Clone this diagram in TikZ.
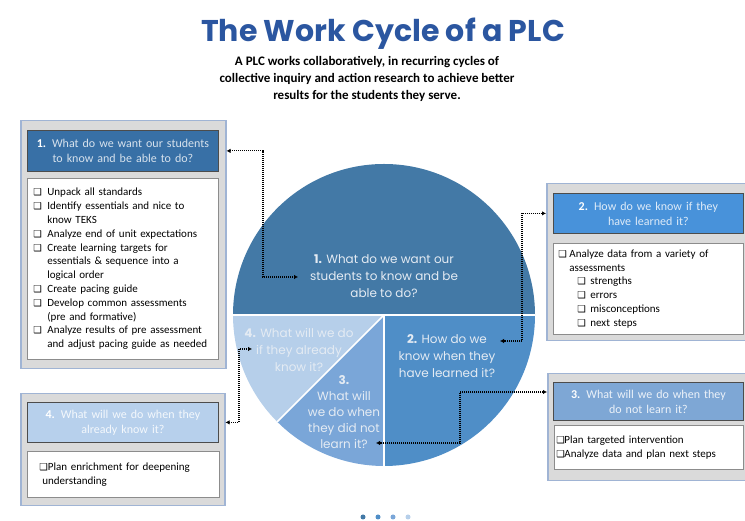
\documentclass[tikz,border=0pt]{standalone}
\usepackage{fontspec}
\setmainfont{Carlito}
\newfontfamily\piefont{Poppins}
\newfontfamily\symfont{DejaVu Sans}
\usetikzlibrary{arrows.meta}

\definecolor{titleblue}{RGB}{43,86,160}
\definecolor{sliceA}{RGB}{67,121,166}
\definecolor{sliceB}{RGB}{79,142,199}
\definecolor{sliceC}{RGB}{122,166,216}
\definecolor{sliceD}{RGB}{182,207,234}
\definecolor{headA}{RGB}{56,112,166}
\definecolor{headB}{RGB}{72,146,218}
\definecolor{headC}{RGB}{126,167,213}
\definecolor{headD}{RGB}{183,208,236}
\definecolor{framegray}{RGB}{218,218,218}
\definecolor{frameline}{RGB}{160,180,212}
\definecolor{pietext}{RGB}{228,235,243}

\newcommand{\chk}{{\symfont\fontsize{9.5}{9.5}\selectfont ❑}}
\newcommand{\itm}[2][14pt]{\noindent\hangindent=#1\hangafter=1\makebox[#1][l]{\chk}#2\par}
\newcommand{\subitm}[1]{\noindent\hspace*{19pt}\makebox[13pt][l]{\chk}#1\par}

\begin{document}
\begin{tikzpicture}[x=1pt,y=1pt,
    frame/.style={draw=frameline, line width=1.5pt, fill=framegray, anchor=north west, inner sep=0pt},
    head/.style={draw=black!70, line width=0.8pt, anchor=north west, inner sep=0pt, text width=#1, align=center, font=\fontsize{12}{15}\selectfont},
    body/.style={draw=black!45, line width=0.8pt, fill=white, anchor=north west, align=left, font=\fontsize{11}{13.8}\selectfont},
    pielabel/.style={text=pietext, align=center, font=\piefont\fontsize{12}{17}\selectfont},
    link/.style={line width=1.1pt, dash pattern=on 1pt off 1pt, {Latex[length=4pt,width=4.5pt]}-{Latex[length=4pt,width=4.5pt]}}]
  \useasboundingbox (0,0) rectangle (745,521);

  % title
  \node[text=titleblue, font=\piefont\bfseries\fontsize{30}{31}\selectfont] (title) at (383,487) {The Work Cycle of a PLC};
  \node[align=center, font=\bfseries\fontsize{13}{17}\selectfont] (intro) at (367,442)
    {A PLC works collaboratively, in recurring cycles of\\collective inquiry and action research to achieve better\\results for the students they serve.};

  % pie
  \coordinate (c) at (384,206);
  \fill[sliceA] (c) -- ++(0:151) arc[start angle=0, end angle=180, radius=151] -- cycle;
  \fill[sliceB] (c) -- ++(270:151) arc[start angle=270, end angle=360, radius=151] -- cycle;
  \fill[sliceC] (c) -- ++(225:151) arc[start angle=225, end angle=270, radius=151] -- cycle;
  \fill[sliceD] (c) -- ++(180:151) arc[start angle=180, end angle=225, radius=151] -- cycle;
  \draw[white, line width=1.5pt] (c) ++(180:151) -- ++(302,0);
  \draw[white, line width=1.5pt] (c) -- ++(270:151);
  \draw[white, line width=1.5pt] (c) -- ++(225:151);

  \node[pielabel] (p1) at (384,245) {\textbf{1.} What do we want our\\students to know and be\\able to do?};
  \node[pielabel] (p2) at (447,165) {\textbf{2.} How do we\\know when they\\have learned it?};
  \node[pielabel, font=\piefont\fontsize{12}{16}\selectfont] (p3) at (344,109) {\textbf{3.}\\What will\\we do when\\they did not\\learn it?};
  \node[pielabel] (p4) at (299,171) {\textbf{4.} What will we do\\if they already\\know it?};

  % box 1
  \node[frame, minimum width=205pt, minimum height=248pt] (f1) at (20,401) {};
  \node[head=191pt, fill=headA, minimum height=41pt, text=white!80!headA] (h1) at (27,391)
    {\textcolor{white}{\textbf{1.}} What do we want our students\\to know and be able to do?};
  \node[body, text width=179pt, inner xsep=6pt, minimum height=181pt] (b1) at (27,343)
    {\itm{Unpack all standards}
     \itm{Identify essentials and nice to\newline know TEKS}
     \itm{Analyze end of unit expectations}
     \itm{Create learning targets for\newline essentials \& sequence into a\newline logical order}
     \itm{Create pacing guide}
     \itm{Develop common assessments\newline (pre and formative)}
     \itm{Analyze results of pre assessment\newline and adjust pacing guide as needed}};

  % box 2
  \node[frame, minimum width=199pt, minimum height=157pt] (f2) at (546,338) {};
  \node[head=190pt, fill=headB, minimum height=40pt, text=white!82!headB] (h2) at (553,328)
    {\textcolor{white}{\textbf{2.}} How do we know if they\\have learned it?};
  \node[body, text width=180pt, inner xsep=5pt, minimum height=91pt] (b2) at (553,278)
    {\itm[11pt]{Analyze data from a variety of\newline assessments}
     \subitm{strengths}
     \subitm{errors}
     \subitm{misconceptions}
     \subitm{next steps}};

  % box 3
  \node[frame, minimum width=198pt, minimum height=107pt] (f3) at (547,148) {};
  \node[head=190pt, fill=headC, minimum height=38pt, text=white!85!headC] (h3) at (553,139)
    {\textcolor{white}{\textbf{3.}} What will we do when they\\do not learn it?};
  \node[body, text width=185pt, inner xsep=2pt, minimum height=44pt] (b3) at (554,96)
    {\itm[8pt]{Plan targeted intervention}
     \itm[8pt]{Analyze data and plan next steps}};

  % box 4
  \node[frame, minimum width=204pt, minimum height=112pt] (f4) at (20,128) {};
  \node[head=191pt, fill=headD, minimum height=40pt, text=white!85!headD] (h4) at (27,119)
    {\textcolor{white}{\textbf{4.}} What will we do when they\\already know it?};
  \node[body, text width=168pt, inner xsep=12pt, minimum height=46pt] (b4) at (27,70)
    {\chk Plan enrichment for deepening\\\hspace*{3pt}understanding};

  % connectors
  \coordinate (k1) at (263,244);  \coordinate (t1) at (298,244);
  \coordinate (k2) at (522,180);  \coordinate (t2) at (500,180);
  \coordinate (k3) at (460,78);   \coordinate (t3) at (376,78);
  \coordinate (k4) at (239,172);  \coordinate (t4) at (252,172);
  \draw[link] (f1.east |- h1.east) -| (k1) -- (t1);
  \draw[link] (f2.west |- h2.west) -| (k2) -- (t2);
  \draw[link] ([yshift=-19pt]f3.north west) -| (k3) -- (t3);
  \draw[link] (f4.east |- h4.east) -| (k4) -- (t4);

  % page dots
  \foreach \px/\col in {363/sliceA, 378/sliceB, 393/sliceC, 408/sliceD}
    \fill[\col] (\px,4) circle (2.5);
\end{tikzpicture}
\end{document}
